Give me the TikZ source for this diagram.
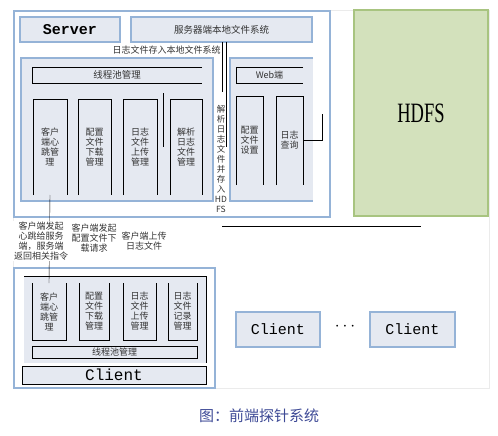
\documentclass[tikz,border=0pt]{standalone}
\usepackage{fontspec}
\setmainfont{Liberation Serif}
\setmonofont{Liberation Mono}
\newfontfamily\cjk{Noto Sans CJK SC}
\definecolor{frameblue}{RGB}{149,179,215}
\definecolor{panelgray}{RGB}{229,233,241}
\definecolor{hdfsfill}{RGB}{211,225,188}
\definecolor{hdfsline}{RGB}{168,196,128}
\definecolor{capblue}{RGB}{62,74,150}
\begin{document}
\begin{tikzpicture}[x=1pt,y=-1pt,
    every node/.style={inner sep=0pt,outer sep=0pt},
    sz/.style 2 args={minimum width=#1pt,minimum height=#2pt},
    frame/.style={draw=frameblue,line width=1.1pt},
    panel/.style={fill=panelgray},
    lbl/.style={font=\cjk\fontsize{9}{10}\selectfont,text=black!80,align=center},
    mono/.style={font=\ttfamily\fontsize{15}{15}\selectfont}]
  \useasboundingbox (0,0) rectangle (498,436);
  \draw[black!8] (13,10) rectangle (489,388);

  % server side
  \node[frame,fill=white,sz={316}{206}] (server) at (172,114) {};
  \node[frame,panel,sz={100}{25},mono,font=\ttfamily\bfseries\fontsize{15}{15}\selectfont] (srvtitle) at (70,29.5) {Server};
  \node[frame,panel,sz={181}{25},lbl,font=\cjk\fontsize{9.5}{10}\selectfont] (localfs) at (221.5,29.5) {服务器端本地文件系统};
  \node[lbl] (fsnote) at (166.5,50) {日志文件存入本地文件系统};
  \node[frame,panel,sz={192}{143}] (pool) at (117,129.5) {};
  \node[sz={170}{16},lbl,font=\cjk\fontsize{9.5}{10}\selectfont] (poolmgr) at (117,75) {线程池管理};
  \node[panel,sz={34}{96},lbl] (scol1) at (50,147) {客户\\端心\\跳管\\理};
  \node[panel,sz={33}{96},lbl] (scol2) at (94.5,147) {配置\\文件\\下载\\管理};
  \node[panel,sz={34}{96},lbl] (scol3) at (140,147) {日志\\文件\\上传\\管理};
  \node[panel,sz={32}{96},lbl] (scol4) at (186,147) {解析\\日志\\文件\\管理};
  \node[lbl,font=\cjk\fontsize{8.5}{10}\selectfont] (hdfsnote) at (221,159) {解\\析\\日\\志\\文\\件\\并\\存\\入\\HD\\FS};

  % web side
  \node[panel,sz={83}{143}] (web) at (271.5,129.5) {};
  \draw[frameblue,line width=1.1pt] (web.north east) -- (web.north west) -- (web.south west) -- (web.south east);
  \node[sz={67}{16},lbl] (webhead) at (269.5,75) {Web端};
  \node[panel,sz={27}{89},lbl] (wcfg) at (249.5,140.5) {配置\\文件\\设置};
  \node[panel,sz={27}{89},lbl] (wquery) at (289.5,140.5) {日志\\查询};

  \node[draw=hdfsline,line width=1.2pt,fill=hdfsfill,sz={134}{206},font=\fontsize{28}{28}\selectfont] (hdfs) at (421,113) {\scalebox{0.66}[1]{HDFS}};

  % client side
  \node[frame,fill=white,sz={201}{120}] (client) at (114.5,328) {};
  \node[panel,sz={182}{87}] (cinner) at (115,319.5) {};
  \node[panel,sz={34}{57},lbl] (ccol1) at (49,311.5) {客户\\端心\\跳管\\理};
  \node[panel,sz={30}{57},lbl] (ccol2) at (94,311.5) {配置\\文件\\下载\\管理};
  \node[panel,sz={33}{57},lbl] (ccol3) at (139.5,311.5) {日志\\文件\\上传\\管理};
  \node[panel,sz={29}{57},lbl] (ccol4) at (182.5,311.5) {日志\\文件\\记录\\管理};
  \node[draw,sz={165}{12},lbl] (cpool) at (114.5,352) {线程池管理};
  \node[draw,panel,sz={184}{18},mono,font=\ttfamily\fontsize{16}{16}\selectfont] (cbar) at (114,375) {Client};
  \node[frame,panel,sz={84}{35},mono] (client2) at (278,329.5) {Client};
  \node[frame,panel,sz={85}{35},mono] (client3) at (412.5,329.5) {Client};
  \node[font=\fontsize{16}{16}\selectfont] (dots) at (345,327) {$\cdots$};

  % open borders
  \draw (poolmgr.north east) -- (poolmgr.north west) -- (poolmgr.south west) -- (poolmgr.south east);
  \draw (webhead.north east) -- (webhead.north west) -- (webhead.south west) -- (webhead.south east);
  \foreach \n in {scol1,scol2,scol3,scol4,wcfg,wquery}
    \draw (\n.south west) -- (\n.north west) -- (\n.north east) -- (\n.south east);
  \foreach \n in {ccol1,ccol2,ccol3,ccol4}
    \draw (\n.north west) -- (\n.south west) -- (\n.south east) -- (\n.north east);
  \draw (cinner.north west) -- (cinner.north east) -- (cinner.south east);

  % connectors
  \coordinate (fsleft) at (222,92);
  \coordinate (fsright) at (226,147);
  \coordinate (stubtop) at (163,93);
  \coordinate (stubbot) at (163,147);
  \coordinate (qend) at (322,114);
  \coordinate (hl1) at (222,226);
  \coordinate (hl2) at (421,226);
  \draw (localfs.south -| fsleft) -- (fsleft);
  \draw (localfs.south -| fsright) -- (fsright);
  \draw (stubtop) -- (stubbot);
  \draw (wquery.east) -| (qend);
  \draw (hl1) -- (hl2);
  \draw (scol1.south) -- (ccol1.north);

  \node[lbl,fill=white,inner sep=1pt] (hbnote) at (41,241) {客户端发起\\心跳给服务\\端，服务端\\返回相关指令};
  \node[lbl] (cfgnote) at (94,238) {客户端发起\\配置文件下\\载请求};
  \node[lbl] (upnote) at (144,241) {客户端上传\\日志文件};

  \node[font=\cjk\fontsize{15}{15}\selectfont,text=capblue] (caption) at (259,416) {图：前端探针系统};
\end{tikzpicture}
\end{document}
